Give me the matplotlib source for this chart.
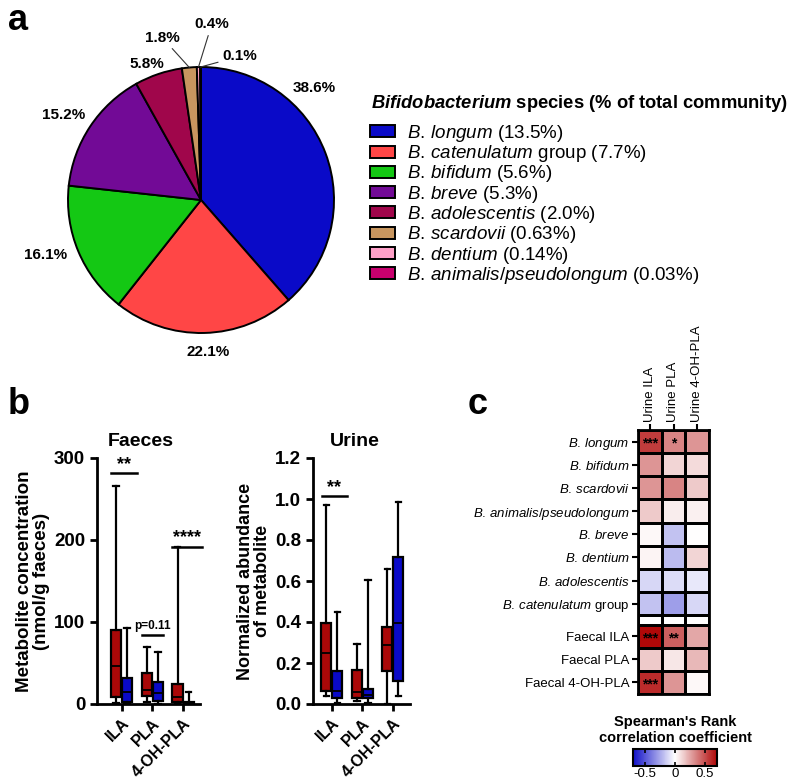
import numpy as np
import matplotlib
matplotlib.use('Agg')
import matplotlib.pyplot as plt
from matplotlib.patches import Patch
from matplotlib.colors import LinearSegmentedColormap, Normalize
from matplotlib.cm import ScalarMappable

plt.rcParams['font.family'] = ['Liberation Sans', 'DejaVu Sans']
plt.rcParams['mathtext.fontset'] = 'custom'
plt.rcParams['mathtext.rm'] = 'Liberation Sans'
plt.rcParams['mathtext.it'] = 'Liberation Sans:italic'
plt.rcParams['mathtext.bf'] = 'Liberation Sans:bold:italic'

# ---- data ----
# panel a: pie
pie_pct = [38.6, 22.1, 16.1, 15.2, 5.8, 1.8, 0.4, 0.1]
pie_colors = ['#0A0AC8', '#FF4646', '#14C814', '#720A96', '#A0064B', '#C8965F', '#FFA0C8', '#C8006E']
species_it = ['B. longum', 'B. catenulatum', 'B. bifidum', 'B. breve', 'B. adolescentis',
              'B. scardovii', 'B. dentium', 'B. animalis/pseudolongum']
species_suffix = ['', ' group', '', '', '', '', '', '']
community_pct = ['13.5%', '7.7%', '5.6%', '5.3%', '2.0%', '0.63%', '0.14%', '0.03%']

# label spots in pie data units, and whether a leader line is drawn
label_xy = [(0.85, 0.84), (0.05, -1.14), (-1.17, -0.41), (-1.03, 0.64),
            (-0.41, 1.02), (-0.29, 1.22), (0.08, 1.32), (0.29, 1.08)]
leader = [False, False, False, False, False, True, True, True]

# panel b: box stats (whislo, q1, med, q3, whishi)
metabolites = ['ILA', 'PLA', '4-OH-PLA']
faeces_red = [(1, 8.5, 46, 90, 266), (2, 10, 17, 38, 70), (0, 2, 8, 24, 191)]
faeces_blue = [(0, 3, 15, 32, 93), (0, 4, 14, 27, 63), (0, 0.3, 1, 2, 15)]
urine_red = [(0.037, 0.061, 0.248, 0.394, 0.97), (0.013, 0.03, 0.06, 0.164, 0.293),
             (0.0, 0.159, 0.288, 0.378, 0.657)]
urine_blue = [(0.005, 0.03, 0.061, 0.159, 0.45), (0.005, 0.028, 0.045, 0.073, 0.605),
              (0.04, 0.11, 0.397, 0.718, 0.985)]

# panel c: heatmap
hm_cols = ['Urine ILA', 'Urine PLA', 'Urine 4-OH-PLA']
hm_rows_it = ['B. longum', 'B. bifidum', 'B. scardovii', 'B. animalis/pseudolongum',
              'B. breve', 'B. dentium', 'B. adolescentis', 'B. catenulatum']
hm_rows_suffix = ['', '', '', '', '', '', '', ' group']
hm_rows_faecal = ['Faecal ILA', 'Faecal PLA', 'Faecal 4-OH-PLA']
corr = [[0.55, 0.35, 0.30],
        [0.30, 0.12, 0.10],
        [0.30, 0.35, 0.15],
        [0.15, 0.05, 0.04],
        [0.02, -0.18, 0.00],
        [0.03, -0.20, 0.12],
        [-0.12, -0.10, -0.07],
        [-0.18, -0.28, -0.12],
        [0.70, 0.45, 0.25],
        [0.15, 0.07, 0.20],
        [0.60, 0.30, 0.02]]
stars = [['***', '*', ''], ['', '', ''], ['', '', ''], ['', '', ''], ['', '', ''],
         ['', '', ''], ['', '', ''], ['', '', ''],
         ['***', '**', ''], ['', '', ''], ['***', '', '']]

W, H = 787, 782
fig = plt.figure(figsize=(W / 100, H / 100), dpi=100)


def box(l, t, r, b):
    return [l / W, 1 - b / H, (r - l) / W, (b - t) / H]


def it_math(s):
    # mathtext puts extra room after '.', so use a thin space there
    return r'$\mathit{' + s.replace('. ', r'.\,').replace(' ', r'\ ') + '}$'


# ---- a: pie ----
ax = fig.add_axes(box(68, 67, 334, 333))
wedges, _ = ax.pie(pie_pct, colors=pie_colors, startangle=90, counterclock=False,
                   wedgeprops=dict(edgecolor='black', linewidth=1.4))
ax.set_aspect('auto')
ax.set_xlim(-1, 1)
ax.set_ylim(-1, 1)
for w in wedges:
    w.set_clip_on(False)
for w, pct, (lx, ly), lead in zip(wedges, pie_pct, label_xy, leader):
    if lead:
        th = np.deg2rad((w.theta1 + w.theta2) / 2)
        ax.annotate(f'{pct}%', xy=(np.cos(th), np.sin(th)), xytext=(lx, ly),
                    ha='center', va='center', fontsize=11, fontweight='bold',
                    arrowprops=dict(arrowstyle='-', lw=0.8, color='#333333',
                                    shrinkA=1, shrinkB=0))
    else:
        ax.text(lx, ly, f'{pct}%', ha='center', va='center', fontsize=11, fontweight='bold')

handles = [Patch(facecolor=c, edgecolor='black', linewidth=1.4) for c in pie_colors]
labels = [it_math(s) + suf + f' ({p})'
          for s, suf, p in zip(species_it, species_suffix, community_pct)]
fig.legend(handles, labels, loc='upper left', bbox_to_anchor=(370 / W, 1 - 123 / H),
           frameon=False, fontsize=13.5, handlelength=1.35, handleheight=0.6,
           handletextpad=0.6, labelspacing=-0.04, borderpad=0, borderaxespad=0)
fig.text(371 / W, 1 - 103 / H, r'$\mathbf{Bifidobacterium}$ species (% of total community)',
         fontsize=13.2, fontweight='bold', va='center', ha='left')

# ---- b: box plots ----
red_c, blue_c = '#AA0808', '#0A0AC8'


def draw_boxes(ax, red, blue):
    for i, (r, b) in enumerate(zip(red, blue)):
        for vals, off, col in ((r, -0.18, red_c), (b, 0.18, blue_c)):
            lo, q1, med, q3, hi = vals
            ax.bxp([dict(whislo=lo, q1=q1, med=med, q3=q3, whishi=hi, fliers=[])],
                   positions=[i + off], widths=0.33, patch_artist=True, showfliers=False,
                   boxprops=dict(facecolor=col, edgecolor='black', linewidth=1.6),
                   medianprops=dict(color='black', linewidth=1.3),
                   whiskerprops=dict(color='black', linewidth=1.6),
                   capprops=dict(color='black', linewidth=1.6), capwidths=0.18,
                   manage_ticks=False)


def style_box_ax(ax):
    for s in ('top', 'right'):
        ax.spines[s].set_visible(False)
    for s in ('left', 'bottom'):
        ax.spines[s].set_linewidth(2)
    ax.tick_params(width=2, length=5)
    ax.set_xticks(range(3))
    ax.set_xticklabels(metabolites, rotation=45, ha='right', rotation_mode='anchor',
                       fontsize=11.5, fontweight='bold')
    for t in ax.get_yticklabels():
        t.set_fontweight('bold')
        t.set_fontsize(13.5)


def sig(ax, x1, x2, y, txt, size=13, dy=0):
    ax.plot([x1, x2], [y, y], color='black', lw=1.8, clip_on=False)
    ax.text((x1 + x2) / 2, y + dy, txt, ha='center', va='bottom', fontsize=size,
            fontweight='bold')


axf = fig.add_axes(box(97, 458, 200, 704))
draw_boxes(axf, faeces_red, faeces_blue)
axf.set_xlim(-0.8, 2.55)
axf.set_ylim(0, 300)
axf.set_yticks([0, 100, 200, 300])
style_box_ax(axf)
sig(axf, -0.33, 0.5, 282, '**')
sig(axf, 0.65, 1.34, 84, 'p=0.11', size=8.5, dy=4)
sig(axf, 1.63, 2.6, 192, '****')

axu = fig.add_axes(box(313, 458, 410, 704))
draw_boxes(axu, urine_red, urine_blue)
axu.set_xlim(-0.62, 2.56)
axu.set_ylim(0, 1.2)
axu.set_yticks(np.arange(0, 1.21, 0.2))
axu.set_yticklabels([f'{v:.1f}' for v in np.arange(0, 1.21, 0.2)])
style_box_ax(axu)
sig(axu, -0.34, 0.48, 1.013, '**')

fig.text(141 / W, 1 - 441 / H, 'Faeces', ha='center', va='center', fontsize=14, fontweight='bold')
fig.text(355 / W, 1 - 441 / H, 'Urine', ha='center', va='center', fontsize=14, fontweight='bold')
fig.text(33 / W, 1 - 581 / H, 'Metabolite concentration\n(nmol/g faeces)', rotation=90,
         ha='center', va='center', fontsize=13.5, fontweight='bold', linespacing=1.0)
fig.text(254 / W, 1 - 581 / H, 'Normalized abundance\nof metabolite', rotation=90,
         ha='center', va='center', fontsize=13, fontweight='bold', linespacing=1.0)

# ---- c: heatmap ----
cmap = LinearSegmentedColormap.from_list('gp_bwr', ['#1010C8', 'white', '#B00808'])
norm = Normalize(-0.7, 0.7)
axh = fig.add_axes(box(638, 430, 709, 694))
gap = 0.4
vals = np.array(corr[:8] + [[np.nan] * 3] + corr[8:])
vals = np.ma.masked_invalid(vals)
yedges = np.r_[np.arange(9), 8 + gap + np.arange(4)]
axh.pcolormesh(np.arange(4), yedges, vals, cmap=cmap, norm=norm,
               edgecolors='black', linewidth=0.9)
axh.set_xlim(0, 3)
axh.set_ylim(yedges[-1], 0)
row_centers = [i + 0.5 for i in range(8)] + [8 + gap + i + 0.5 for i in range(3)]
row_labels = [it_math(s) + suf for s, suf in zip(hm_rows_it, hm_rows_suffix)] + hm_rows_faecal
axh.set_yticks(row_centers)
axh.set_yticklabels(row_labels, fontsize=9.5)
axh.set_xticks([0.5, 1.5, 2.5])
axh.set_xticklabels(hm_cols, rotation=90, fontsize=9.5)
axh.tick_params(top=True, labeltop=True, bottom=False, labelbottom=False,
                length=4, width=1.5, pad=2)
for s in axh.spines.values():
    s.set_linewidth(2)
for r, yc in enumerate(row_centers):
    for c in range(3):
        if stars[r][c]:
            axh.text(c + 0.5, yc + 0.1, stars[r][c], ha='center', va='center',
                     fontsize=10, fontweight='bold')

cax = fig.add_axes(box(633, 749, 717, 766))
cb = fig.colorbar(ScalarMappable(norm=norm, cmap=cmap), cax=cax, orientation='horizontal',
                  ticks=[-0.5, 0, 0.5])
cb.ax.set_xticklabels(['-0.5', '0', '0.5'], fontsize=9.5)
cb.outline.set_linewidth(1.5)
cax.tick_params(direction='in', top=True, length=3, width=1.2, pad=1.5)
fig.text(675 / W, 1 - 730 / H, "Spearman's Rank\ncorrelation coefficient", ha='center',
         va='center', fontsize=10.5, fontweight='bold', linespacing=1.1)

# panel letters
fig.text(8 / W, 1 - 20 / H, 'a', fontsize=26, fontweight='bold', va='center')
fig.text(8 / W, 1 - 405 / H, 'b', fontsize=26, fontweight='bold', va='center')
fig.text(468 / W, 1 - 405 / H, 'c', fontsize=26, fontweight='bold', va='center')

fig.savefig('out.png', dpi=100)
